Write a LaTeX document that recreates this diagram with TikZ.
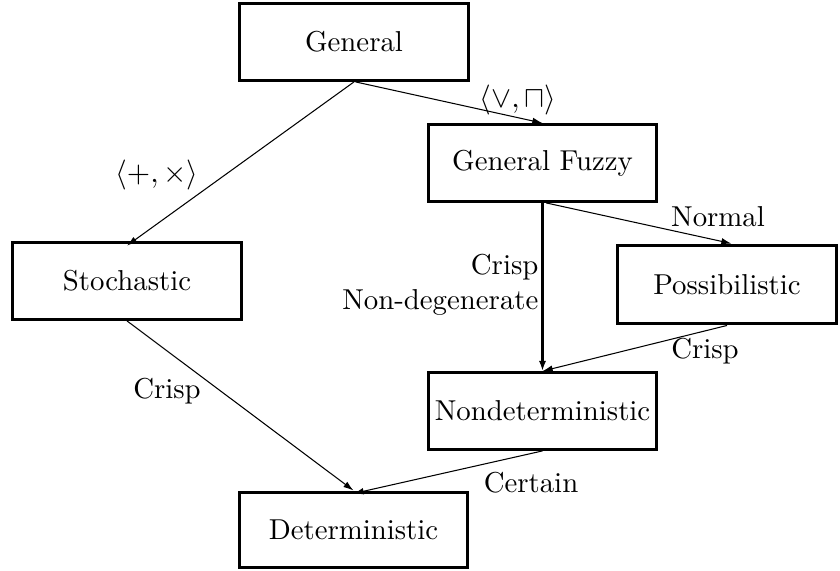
\documentclass[tikz,border=0pt]{standalone}
\usetikzlibrary{arrows.meta}
\begin{document}
\begin{tikzpicture}[x=0.3333pt,y=-0.3333pt,
  every node/.style={font=\fontsize{9.6pt}{11.5pt}\selectfont},
  box/.style={draw,line width=1pt,inner sep=0pt,minimum width=76pt,minimum height=25.6pt},
  conn/.style={line width=0.35pt,-{Latex[length=3.4pt,width=2.2pt]}},
  thickconn/.style={line width=1pt,-{Latex[length=3.4pt,width=2.4pt]}},
  lab/.style={inner sep=0pt}]
\useasboundingbox (0,0) rectangle (840,570);
\node[box] (general) at (354,42) {General};
\node[box] (gf) at (542.5,163) {General Fuzzy};
\node[box] (stoch) at (127,281) {Stochastic};
\node[box,minimum width=73.3pt,minimum height=26.3pt] (poss) at (727,284.5) {Possibilistic};
\node[box] (nondet) at (542.5,411) {Nondeterministic};
\node[box,minimum height=25pt] (det) at (353.5,529.5) {Deterministic};

\draw[conn] ([xshift=0.5pt]general.south) -- (gf.north);
\draw[conn] (general.south) -- ([yshift=-1.5pt]stoch.north);
\draw[thickconn] (gf.south) -- (nondet.north);
\draw[conn] ([xshift=1.2pt]gf.south) -- ([xshift=1.5pt]poss.north);
\draw[conn] (poss.south) -- (nondet.north);
\draw[conn] (stoch.south) -- (det.north);
\draw[conn] (nondet.south) -- ([yshift=-1pt]det.north);

\node[lab] (l1) at (518,100) {$\langle\vee,\sqcap\rangle$};
\node[lab] (l2) at (157,175) {$\langle+,\times\rangle$};
\node[lab] (l3) at (718,217) {Normal};
\node[lab,align=right,anchor=east] (l4) at (539,285) {Crisp\\Non-degenerate};
\node[lab] (l5) at (705,351) {Crisp};
\node[lab] (l6) at (167,391) {Crisp};
\node[lab] (l7) at (531,483) {Certain};
\end{tikzpicture}
\end{document}
